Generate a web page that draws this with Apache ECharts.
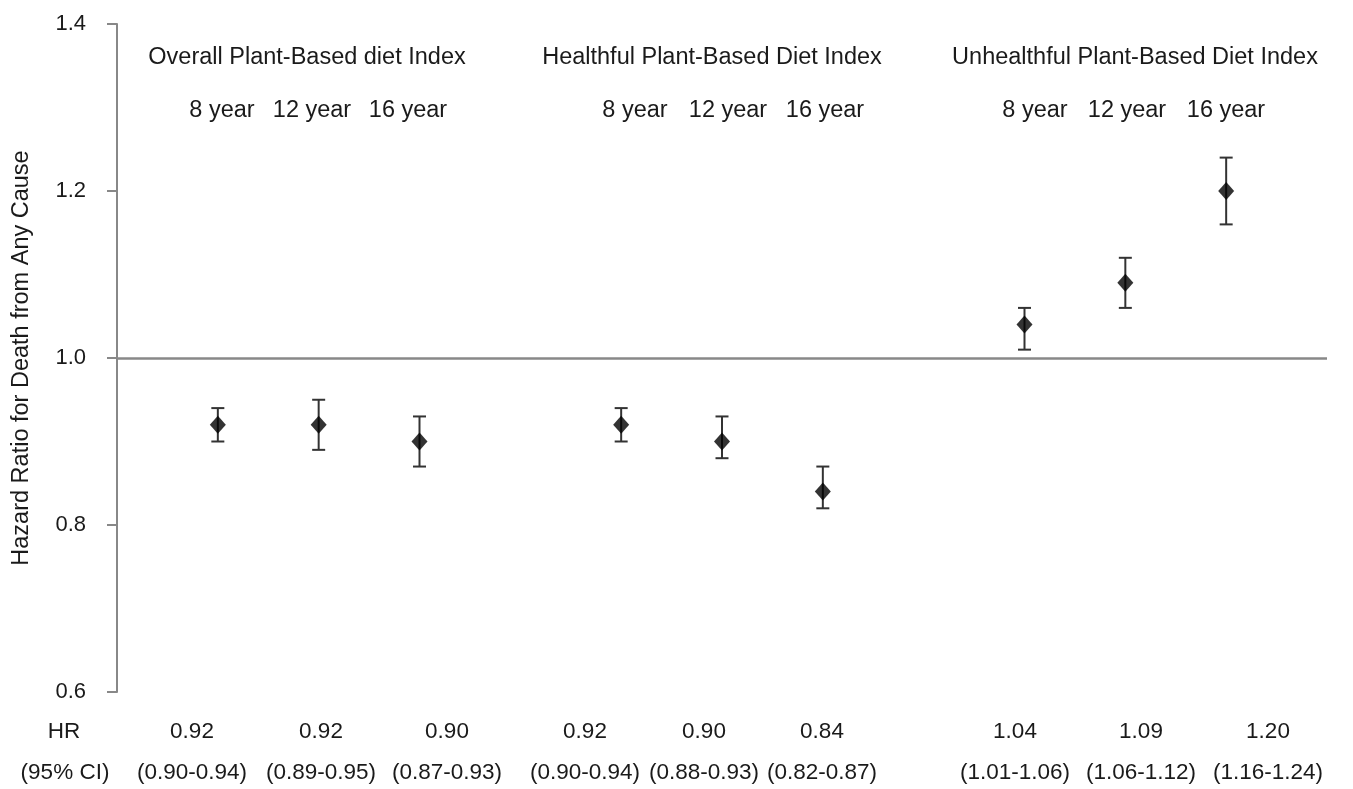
<!DOCTYPE html>
<html>
<head>
<meta charset="utf-8">
<script src="https://cdn.jsdelivr.net/npm/echarts@6/dist/echarts.min.js"></script>
<style>
    html, body { margin: 0; padding: 0; background: #fff; }
    #chart { width: 1353px; height: 789px; }
</style>
</head>
<body>
<div id="chart"></div>
<script>
// 分组与年份
const groups = ['Overall Plant-Based diet Index', 'Healthful Plant-Based Diet Index', 'Unhealthful Plant-Based Diet Index'];
const years = ['8 year', '12 year', '16 year', '8 year', '12 year', '16 year', '8 year', '12 year', '16 year'];
// x 位置（组间留空一格）
const xPos = [1, 2, 3, 5, 6, 7, 9, 10, 11];
// 风险比及 95% CI
const hr = [0.92, 0.92, 0.90, 0.92, 0.90, 0.84, 1.04, 1.09, 1.20];
const lower = [0.90, 0.89, 0.87, 0.90, 0.88, 0.82, 1.01, 1.06, 1.16];
const upper = [0.94, 0.95, 0.93, 0.94, 0.93, 0.87, 1.06, 1.12, 1.24];

// 文字排版（像素）
const titleX = [307, 712, 1135];
const yearX = [222, 312, 408, 635, 728, 825, 1035, 1127, 1226];
const colX = [192, 321, 447, 585, 704, 822, 1015, 1141, 1268];

const font = 'Liberation Sans, Arial, sans-serif';
const fsText = 23.5;
const fsNum = 22.5;
const textColor = '#1a1a1a';

function txt(x, y, text, size) {
    return {
        type: 'text',
        x: x,
        y: y,
        silent: true,
        style: { text: text, font: size + 'px ' + font, fill: textColor, align: 'center', verticalAlign: 'middle' }
    };
}

const graphics = [txt(64, 732, 'HR', fsNum), txt(65, 773, '(95% CI)', fsNum)];
groups.forEach((g, i) => graphics.push(txt(titleX[i], 58, g, fsText)));
years.forEach((y, i) => graphics.push(txt(yearX[i], 111, y, fsText)));
hr.forEach((v, i) => {
    graphics.push(txt(colX[i], 732, v.toFixed(2), fsNum));
    graphics.push(txt(colX[i], 773, '(' + lower[i].toFixed(2) + '-' + upper[i].toFixed(2) + ')', fsNum));
});

const chart = echarts.init(document.getElementById('chart'));

const option = {
    animation: false,
    grid: { left: 117, right: 26, top: 24, bottom: 97, containLabel: false, outerBoundsMode: 'none' },
    xAxis: {
        type: 'value',
        min: 0,
        max: 12,
        interval: 1,
        axisLine: { show: false },
        axisTick: { show: false },
        splitLine: { show: false },
        axisLabel: { show: false }
    },
    yAxis: {
        type: 'value',
        min: 0.6,
        max: 1.4,
        interval: 0.2,
        name: 'Hazard Ratio for Death from Any Cause',
        nameLocation: 'middle',
        nameGap: 83,
        nameTextStyle: { fontFamily: font, fontSize: fsText, color: textColor },
        axisLine: { show: true, lineStyle: { color: '#888', width: 2 } },
        axisTick: { show: true, length: 10, lineStyle: { color: '#888', width: 2 } },
        splitLine: { show: false },
        axisLabel: {
            margin: 31,
            fontFamily: font,
            fontSize: 22,
            color: textColor,
            formatter: (v) => v.toFixed(1)
        }
    },
    graphic: graphics,
    series: [
        {
            type: 'custom',
            name: 'CI',
            renderItem: (params, api) => {
                const x = api.value(0);
                const lo = api.coord([x, api.value(1)]);
                const hi = api.coord([x, api.value(2)]);
                const half = 6.5;
                const style = { stroke: '#333', lineWidth: 2 };
                return {
                    type: 'group',
                    children: [
                        { type: 'line', shape: { x1: lo[0], y1: lo[1], x2: hi[0], y2: hi[1] }, style },
                        { type: 'line', shape: { x1: lo[0] - half, y1: lo[1], x2: lo[0] + half, y2: lo[1] }, style },
                        { type: 'line', shape: { x1: hi[0] - half, y1: hi[1], x2: hi[0] + half, y2: hi[1] }, style }
                    ]
                };
            },
            data: xPos.map((x, i) => [x, lower[i], upper[i]]),
            z: 2
        },
        {
            type: 'scatter',
            name: 'HR',
            symbol: 'diamond',
            symbolSize: [16, 18],
            itemStyle: { color: '#000' },
            data: xPos.map((x, i) => [x, hr[i]]),
            z: 3,
            markLine: {
                silent: true,
                symbol: 'none',
                label: { show: false },
                lineStyle: { color: '#888', width: 2.5, type: 'solid' },
                data: [{ yAxis: 1.0 }]
            }
        }
    ]
};

chart.setOption(option);
</script>
</body>
</html>
